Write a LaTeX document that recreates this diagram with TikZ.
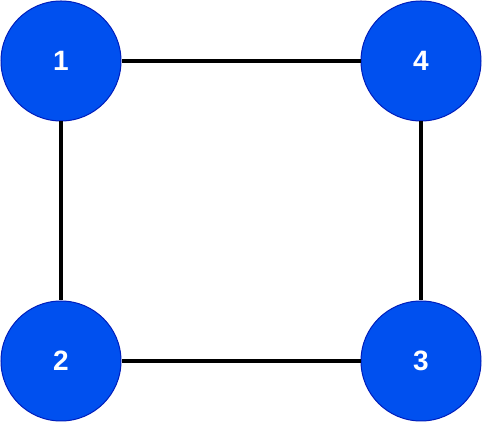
\documentclass[tikz,border=0pt]{standalone}
\usepackage{fontspec}
\setmainfont{Liberation Sans}
\definecolor{nodefill}{HTML}{0050EF}
\definecolor{nodeline}{HTML}{001DBC}
\begin{document}
\begin{tikzpicture}[x=1pt,y=1pt,
  vertex/.style={circle, draw=nodeline, fill=nodefill, line width=1pt, minimum size=120pt, inner sep=0pt, text=white, font=\fontsize{28}{32}\selectfont\bfseries},
  edge/.style={line width=3.5pt, black}]
\useasboundingbox (0,0) rectangle (482,422);
\node[vertex] (n1) at (61,361) {1};
\node[vertex] (n4) at (421,361) {4};
\node[vertex] (n2) at (61,61) {2};
\node[vertex] (n3) at (421,61) {3};
\draw[edge] (n1) -- (n4);
\draw[edge] (n1) -- (n2);
\draw[edge] (n2) -- (n3);
\draw[edge] (n4) -- (n3);
\end{tikzpicture}
\end{document}
